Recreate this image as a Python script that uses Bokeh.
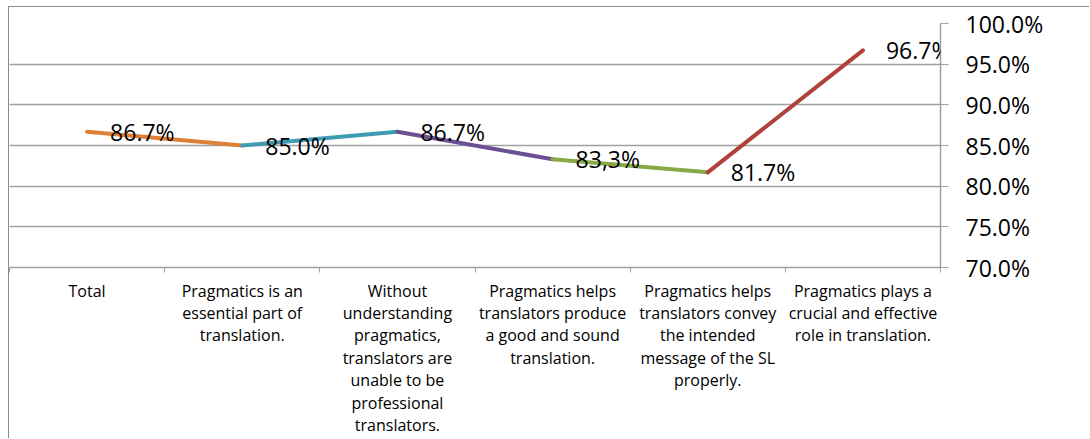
from bokeh.plotting import figure
from bokeh.models import Range1d, FixedTicker, PrintfTickFormatter, ColumnDataSource, LabelSet
from bokeh.core.properties import value
from bokeh.embed import file_html
from bokeh.resources import INLINE

categories = [
    "Total",
    "Pragmatics is an essential part of translation.",
    "Without understanding pragmatics, translators are unable to be professional translators.",
    "Pragmatics helps translators produce a good and sound translation.",
    "Pragmatics helps translators convey the intended message of the SL properly.",
    "Pragmatics plays a crucial and effective role in translation.",
]
tick_labels = [
    "Total",
    "Pragmatics is an\nessential part of\ntranslation.",
    "Without\nunderstanding\npragmatics,\ntranslators are\nunable to be\nprofessional\ntranslators.",
    "Pragmatics helps\ntranslators produce\na good and sound\ntranslation.",
    "Pragmatics helps\ntranslators convey\nthe intended\nmessage of the SL\nproperly.",
    "Pragmatics plays a\ncrucial and effective\nrole in translation.",
]
values = [86.7, 85.0, 86.7, 83.3, 81.7, 96.7]
value_labels = ["86.7%", "85.0%", "86.7%", "83,3%", "81.7%", "96.7%"]
segment_colors = ["#DD8136", "#3E9BB4", "#6C5093", "#88AA46", "#B0423C"]
y_ticks = [70, 75, 80, 85, 90, 95, 100]

xs = list(range(len(categories)))
FONT = "Open Sans"
GRID = "#a0a0a0"

p = figure(width=1081, height=432,
           x_range=Range1d(-0.5, len(categories) - 0.5), y_range=Range1d(70, 100),
           y_axis_location="right", output_backend="svg", toolbar_location=None,
           min_border_left=0, min_border_right=150, min_border_top=16, min_border_bottom=172)
p.styles = {"margin-left": "8px", "margin-top": "6px",
            "border-left": "1px solid #8c8c8c", "border-top": "1px solid #8c8c8c"}
p.outline_line_color = None
p.background_fill_color = "white"
p.border_fill_color = "white"

seg = ColumnDataSource(dict(x0=xs[:-1], y0=values[:-1], x1=xs[1:], y1=values[1:], c=segment_colors))
p.segment(x0="x0", y0="y0", x1="x1", y1="y1", line_color="c", line_width=4,
          line_cap="round", source=seg)

lab = ColumnDataSource(dict(x=xs, y=values, t=value_labels))
p.add_layout(LabelSet(x="x", y="y", text="t", source=lab, text_align="left", text_baseline="middle",
                      x_offset=23, text_font=value(FONT), text_font_size=value("23px"),
                      text_color="black", level="overlay"))

# x axis
xa = p.xaxis[0]
xa.axis_label = None
xa.axis_label_standoff = 0
xa.ticker = FixedTicker(ticks=xs, minor_ticks=[i - 0.5 for i in range(len(categories) + 1)])
xa.major_label_overrides = {i: t for i, t in enumerate(tick_labels)}
xa.major_tick_out = 0
xa.major_tick_in = 0
xa.minor_tick_out = 5
xa.minor_tick_in = 0
xa.minor_tick_line_color = GRID
xa.axis_line_color = GRID
xa.axis_line_width = 1.5
xa.major_label_text_font = FONT
xa.major_label_text_font_size = "16px"
xa.major_label_text_line_height = 1.02
xa.major_label_text_color = "black"
xa.major_label_standoff = 7
xa.major_label_orientation = "horizontal"

# y axis
ya = p.yaxis[0]
ya.axis_label = None
ya.ticker = FixedTicker(ticks=y_ticks, minor_ticks=[])
ya.formatter = PrintfTickFormatter(format="%.1f%%")
ya.major_tick_out = 8
ya.major_tick_in = 0
ya.major_tick_line_color = GRID
ya.axis_line_color = GRID
ya.axis_line_width = 1.5
ya.major_label_text_font = FONT
ya.major_label_text_font_size = "23px"
ya.major_label_text_color = "black"
ya.major_label_standoff = 17

p.xgrid.visible = False
p.ygrid.ticker = FixedTicker(ticks=y_ticks)
p.ygrid.grid_line_color = GRID
p.ygrid.grid_line_width = 1.5

open("out.html", "w").write(file_html(p, INLINE))
